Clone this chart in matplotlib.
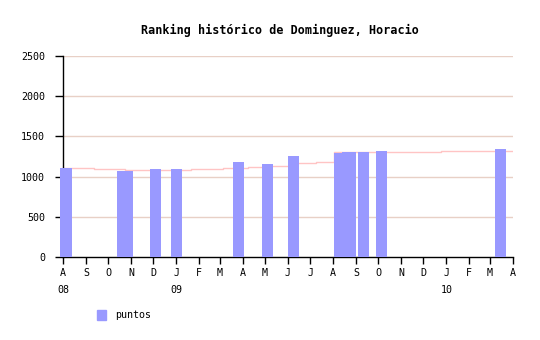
import numpy as np
import pandas as pd
import matplotlib
matplotlib.use('Agg')
import matplotlib.pyplot as plt
import matplotlib.dates as mdates
from matplotlib.patches import Patch

plt.rcParams['font.family'] = ['DejaVu Sans Mono']

# tournament results (bars)
bar_dates = ['2008-08-05', '2008-10-20', '2008-10-27', '2008-12-04', '2009-01-01',
             '2009-03-26', '2009-05-04', '2009-06-08', '2009-08-09', '2009-08-20',
             '2009-08-24', '2009-09-11', '2009-10-05', '2010-03-15']
bar_values = [1107, 1070, 1070, 1095, 1095, 1182, 1157, 1256, 1293, 1306,
              1306, 1306, 1318, 1343]

# ranking line (steps)
line_dates = ['2008-08-01', '2008-09-12', '2008-10-24', '2009-01-21', '2009-03-05',
              '2009-04-08', '2009-05-05', '2009-06-09', '2009-07-09', '2009-08-02',
              '2009-12-25', '2010-04-01']
line_values = [1103, 1091, 1078, 1091, 1103, 1116, 1136, 1165, 1178, 1302, 1315, 1315]

month_ticks = pd.date_range('2008-08-01', '2010-04-01', freq='MS')
year_labels = {'2008-08-01': '08', '2009-01-01': '09', '2010-01-01': '10'}

bd = pd.to_datetime(bar_dates)
ld = pd.to_datetime(line_dates)

fig = plt.figure(figsize=(5.4, 3.4), dpi=100)
ax = fig.add_axes([63 / 540, 1 - 257 / 340, 450 / 540, 201 / 340])

for y in [500, 1000, 1500, 2000, 2500]:
    ax.axhline(y, color='#e8d0c6', lw=1, zorder=0)

ax.step(ld, line_values, where='post', color='#ffc4c4', lw=1, zorder=1)
ax.bar(bd, bar_values, width=15, color='#9999ff', zorder=3, clip_on=False)

ax.set_xlim(month_ticks[0], month_ticks[-1])
ax.set_ylim(0, 2500)
ax.set_yticks([0, 500, 1000, 1500, 2000, 2500])
ax.set_xticks(month_ticks)
ax.set_xticklabels([d.strftime('%b')[0] for d in month_ticks])
for k, v in year_labels.items():
    ax.text(pd.Timestamp(k), -0.165, v, transform=ax.get_xaxis_transform(),
            ha='center', va='center', fontsize=7.2)

for s in ['top', 'right']:
    ax.spines[s].set_visible(False)
for s in ['left', 'bottom']:
    ax.spines[s].set_linewidth(1)
ax.tick_params(axis='both', direction='out', length=5, width=1, labelsize=7.2, pad=3)
ax.tick_params(axis='y', length=6, pad=7)

fig.text(280 / 540, 1 - 30 / 340, 'Ranking histórico de Dominguez, Horacio',
         ha='center', va='center', fontsize=8.5, fontweight='bold')

fig.legend(handles=[Patch(color='#9999ff', label='puntos')], loc='center left',
           bbox_to_anchor=(88 / 540, 1 - 315 / 340), frameon=False, fontsize=7.2,
           handlelength=0.9, handleheight=1.1, handletextpad=0.9)

plt.savefig('out.png', dpi=100)
plt.close()
